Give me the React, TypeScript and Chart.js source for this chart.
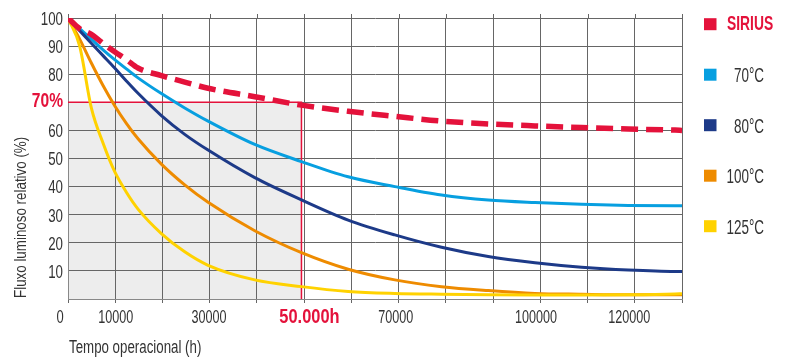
import { useEffect, useRef } from "react";
import { Chart, registerables } from "chart.js";

Chart.register(...registerables);

// ---------- data ----------
const hours = [0, 2500, 5000, 7500, 10000, 12500, 15000, 20000, 25000, 30000, 40000, 50000, 60000, 70000, 80000, 90000, 100000, 110000, 120000, 130000, 131500];
const sirius = [100, 96.2, 94.2, 91, 88, 85.2, 82.2, 79.5, 77.2, 75, 72, 69, 66.8, 65, 63.3, 62.3, 61.6, 61, 60.5, 60.1, 60];
const temp70 = [100, 96.2, 92.5, 88.7, 85.2, 81.9, 78.7, 73.1, 68.0, 63.3, 55, 48.9, 43.5, 40, 37, 35.2, 34.3, 33.7, 33.3, 33.2, 33.2];
const temp80 = [100, 95.5, 91, 86.6, 82.2, 77.6, 73.2, 65.3, 58.6, 53, 43.2, 35.3, 28.1, 22.8, 18.4, 15.1, 12.9, 11.3, 10.3, 9.8, 9.8];
const temp100 = [100, 92.5, 84, 76, 68.8, 62.5, 57.0, 48.0, 40.6, 34.4, 24.3, 16.5, 10.6, 6.8, 4.4, 3, 2, 1.7, 1.5, 1.5, 1.5];
const temp125 = [100, 90, 68, 55.5, 45.3, 38, 32, 23.3, 16.8, 12, 6.8, 4.4, 2.7, 2, 1.7, 1.5, 1.4, 1.4, 1.5, 1.8, 1.9];

const xLabeled = [0, 10000, 30000, 50000, 70000, 100000, 120000];
const yLabeled = [10, 20, 30, 40, 50, 60, 70, 80, 90, 100];
const highlightHour = 50000;
const highlightFlux = 70;
const highlightHourLabel = "50.000h";
const legendLabels = ["SIRIUS", "70°C", "80°C", "100°C", "125°C"];
const xTitle = "Tempo operacional (h)";
const yTitle = "Fluxo luminoso relativo (%)";

// ---------- styles ----------
const FONT = "'Liberation Sans', Arial, sans-serif";
const RED = "#e4123b";
const BLUE = "#079fe0";
const NAVY = "#1d3a88";
const ORANGE = "#ee8b00";
const YELLOW = "#ffd200";
const TEXT = "#333333";
const GRID = "#666666";
const legendColors = [RED, BLUE, NAVY, ORANGE, YELLOW];

const toPoints = (vals: number[]) => hours.map((h, i) => ({ x: h, y: vals[i] }));

type TOpt = { size: number; bold?: boolean; color: string; align: CanvasTextAlign; sx: number; rot?: number };
function drawText(ctx: CanvasRenderingContext2D, text: string, x: number, y: number, o: TOpt) {
  ctx.save();
  ctx.translate(x, y);
  if (o.rot) ctx.rotate(o.rot);
  ctx.scale(o.sx, 1);
  ctx.font = `${o.bold ? "bold " : ""}${o.size}px ${FONT}`;
  ctx.fillStyle = o.color;
  ctx.textAlign = o.align;
  ctx.textBaseline = "alphabetic";
  ctx.fillText(text, 0, 0);
  ctx.restore();
}

const decorPlugin = {
  id: "decor",
  beforeDraw(chart: any) {
    const { ctx, scales } = chart;
    const x = scales.x, y = scales.y;
    const x0 = x.getPixelForValue(0), x1 = x.getPixelForValue(highlightHour);
    const y0 = y.getPixelForValue(0), y1 = y.getPixelForValue(highlightFlux);
    ctx.save();
    ctx.fillStyle = "#ededed";
    ctx.fillRect(x0, y1, x1 - x0, y0 - y1);
    ctx.restore();
  },
  beforeDatasetsDraw(chart: any) {
    const { ctx, scales, chartArea } = chart;
    const x = scales.x, y = scales.y;
    ctx.save();
    ctx.strokeStyle = GRID;
    ctx.lineWidth = 1;
    x.ticks.forEach((t: any) => {
      const px = Math.round(x.getPixelForValue(t.value)) + 0.5;
      ctx.beginPath();
      ctx.moveTo(px, chartArea.top - 4);
      ctx.lineTo(px, chartArea.top);
      ctx.stroke();
    });
    const x0 = x.getPixelForValue(0), x1 = x.getPixelForValue(highlightHour);
    const y0 = y.getPixelForValue(0), y1 = y.getPixelForValue(highlightFlux);
    ctx.strokeStyle = RED;
    ctx.lineWidth = 1.5;
    ctx.beginPath();
    ctx.moveTo(x0, y1);
    ctx.lineTo(x1, y1);
    ctx.lineTo(x1, y0);
    ctx.stroke();
    ctx.restore();
  },
  afterDraw(chart: any) {
    const { ctx, scales } = chart;
    const x = scales.x, y = scales.y;
    const base = y.getPixelForValue(0);
    yLabeled.forEach((v) => {
      if (v === highlightFlux) {
        drawText(ctx, `${v}%`, x.left - 5, y.getPixelForValue(v) + 4.8, { size: 19.5, bold: true, color: RED, align: "right", sx: 0.8 });
      } else {
        drawText(ctx, String(v), x.left - 5, y.getPixelForValue(v) + 6.8, { size: 17.5, color: TEXT, align: "right", sx: 0.76 });
      }
    });
    xLabeled.forEach((v) => {
      const px = x.getPixelForValue(v);
      if (v === highlightHour) {
        drawText(ctx, highlightHourLabel, px + 8, base + 24, { size: 20, bold: true, color: RED, align: "center", sx: 0.82 });
      } else if (v === 0) {
        drawText(ctx, "0", px - 8, base + 24, { size: 17.5, color: TEXT, align: "center", sx: 0.74 });
      } else {
        drawText(ctx, String(v), px + 1, base + 24, { size: 17.5, color: TEXT, align: "center", sx: 0.72 });
      }
    });
    drawText(ctx, xTitle, x.left + 1, base + 54, { size: 17.5, color: TEXT, align: "left", sx: 0.76 });
    drawText(ctx, yTitle, 26, base - 1, { size: 16.5, color: TEXT, align: "left", sx: 0.81, rot: -Math.PI / 2 });
    legendLabels.forEach((lab, i) => {
      const cy = 24.2 + i * 50.5;
      ctx.save();
      ctx.fillStyle = legendColors[i];
      ctx.fillRect(704, cy - 6, 12.5, 12);
      ctx.restore();
      if (i === 0) {
        drawText(ctx, lab, 727, cy + 6, { size: 19.5, bold: true, color: RED, align: "left", sx: 0.71 });
      } else {
        drawText(ctx, lab, 764, cy + 7.3, { size: 19.5, color: TEXT, align: "right", sx: 0.69 });
      }
    });
  },
};

export default function App() {
  const ref = useRef<HTMLCanvasElement | null>(null);
  useEffect(() => {
    document.body.style.margin = "0";
    if (!ref.current) return;
    const line = (data: number[], color: string, order: number, extra: any = {}) => ({
      data: toPoints(data),
      borderColor: color,
      backgroundColor: color,
      borderWidth: 3,
      pointRadius: 0,
      fill: false,
      cubicInterpolationMode: "monotone",
      order,
      ...extra,
    });
    const chart = new Chart(ref.current, {
      type: "line",
      data: {
        datasets: [
          line(sirius, RED, 0, { borderWidth: 5.5, borderDash: [17, 8], borderCapStyle: "butt", label: legendLabels[0] }),
          line(temp125, YELLOW, 1, { label: legendLabels[4] }),
          line(temp100, ORANGE, 2, { label: legendLabels[3] }),
          line(temp80, NAVY, 3, { label: legendLabels[2] }),
          line(temp70, BLUE, 4, { label: legendLabels[1] }),
        ] as any,
      },
      options: {
        animation: false,
        responsive: true,
        maintainAspectRatio: false,
        layout: { padding: { top: 18, right: 107, bottom: 0, left: 0 } },
        plugins: { legend: { display: false }, tooltip: { enabled: false } },
        scales: {
          x: {
            type: "linear",
            min: 0,
            max: 131500,
            afterFit: (s: any) => { s.height = 62; },
            grid: { color: GRID, lineWidth: 1, drawTicks: true, tickLength: 4, tickColor: GRID },
            border: { color: "#888888" },
            ticks: { stepSize: 10000, includeBounds: false, autoSkip: false, maxRotation: 0, display: false },
          },
          y: {
            min: 0,
            max: 100,
            afterFit: (s: any) => { s.width = 68; },
            grid: { color: GRID, lineWidth: 1, drawTicks: false },
            border: { color: "#888888" },
            ticks: { stepSize: 10, display: false },
          },
        },
      } as any,
      plugins: [decorPlugin],
    });
    return () => chart.destroy();
  }, []);
  return (
    <div style={{ width: 789, height: 361, position: "relative" }}>
      <canvas ref={ref} />
    </div>
  );
}
